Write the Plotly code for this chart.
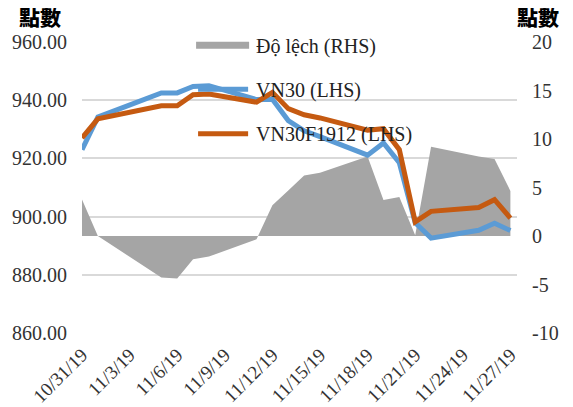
import plotly.graph_objects as go

dates = ["2019-10-31", "2019-11-01", "2019-11-05", "2019-11-06", "2019-11-07",
         "2019-11-08", "2019-11-11", "2019-11-12", "2019-11-13", "2019-11-14",
         "2019-11-15", "2019-11-18", "2019-11-19", "2019-11-20", "2019-11-21",
         "2019-11-22", "2019-11-25", "2019-11-26", "2019-11-27"]

vn30 = [923.0, 934.2, 942.5, 942.5, 944.7, 945.0, 940.2, 940.3, 933.0, 929.5,
        927.5, 921.1, 925.3, 918.5, 897.9, 892.6, 895.3, 897.7, 895.2]

vn30f1912 = [927.0, 933.6, 938.1, 938.1, 941.9, 942.1, 939.3, 942.7, 937.1, 935.0,
             933.9, 929.7, 930.2, 923.0, 898.2, 901.8, 903.1, 905.8, 899.5]

do_lech = [3.77, 0.0, -4.28, -4.38, -2.39, -2.12, -0.34, 3.16, 4.7, 6.24,
           6.52, 8.19, 3.70, 4.03, 0.07, 9.19, 8.19, 7.95, 4.65]

tick_dates = ["2019-10-31", "2019-11-03", "2019-11-06", "2019-11-09", "2019-11-12",
              "2019-11-15", "2019-11-18", "2019-11-21", "2019-11-24", "2019-11-27"]
tick_text = ["10/31/19", "11/3/19", "11/6/19", "11/9/19", "11/12/19",
             "11/15/19", "11/18/19", "11/21/19", "11/24/19", "11/27/19"]

lhs_ticks = [860, 880, 900, 920, 940, 960]
rhs_ticks = [-10, -5, 0, 5, 10, 15, 20]
rhs_text = ["-10", "-5", "0", "5", "10", "15", "20"]

legend_names = ["Độ lệch (RHS)", "VN30 (LHS)", "VN30F1912 (LHS)"]
axis_title = "點數"

GRAY = "#A5A5A5"
BLUE = "#5B9BD5"
ORANGE = "#C55A11"
TXT = "#333333"
SERIF = "Liberation Serif"
CJK = "Noto Sans CJK TC"

fig = go.Figure()

fig.add_trace(go.Scatter(x=dates, y=do_lech, name=legend_names[0], mode="lines",
                         line=dict(width=0, color=GRAY), fill="tozeroy",
                         fillcolor=GRAY, yaxis="y", showlegend=False))
fig.add_trace(go.Scatter(x=dates, y=vn30, name=legend_names[1], mode="lines",
                         line=dict(width=5, color=BLUE), yaxis="y2", showlegend=False))
fig.add_trace(go.Scatter(x=dates, y=vn30f1912, name=legend_names[2], mode="lines",
                         line=dict(width=5, color=ORANGE), yaxis="y2", showlegend=False))

# The page body has an 8px margin, so the figure starts at page (8, 8).
OFF = 8
W, H = 573 - OFF, 407 - OFF
PL, PR, PT, PB = 82, 516.7, 42.3, 333.3   # plot area edges in page pixels
L, R, T, B = PL - OFF, W - (PR - OFF), PT - OFF, H - (PB - OFF)

fig.update_layout(
    template="none",
    width=W, height=H,
    margin=dict(l=L, r=R, t=T, b=B, pad=0, autoexpand=False),
    paper_bgcolor="white", plot_bgcolor="white",
    font=dict(family=SERIF, color=TXT, size=20),
    xaxis=dict(type="date", range=["2019-10-31", "2019-11-27 10:00"],
               tickvals=tick_dates, ticktext=tick_text, tickangle=-45,
               showgrid=False, zeroline=False, showline=False, ticks="",
               automargin=False,
               tickfont=dict(size=19, family=SERIF, color=TXT),
               ticklabelstandoff=6),
    yaxis=dict(side="right", range=[-10, 20], tickvals=rhs_ticks, ticktext=rhs_text,
               showgrid=False, zeroline=False, showline=False, ticks="",
               automargin=False,
               tickfont=dict(size=20, family=SERIF, color=TXT),
               ticklabelstandoff=14),
    yaxis2=dict(overlaying="y", side="left", range=[860, 960], tickvals=lhs_ticks,
                tickformat=".2f", showgrid=True, gridcolor="#D9D9D9", gridwidth=1.5,
                zeroline=False, showline=False, ticks="", automargin=False,
                tickfont=dict(size=20, family=SERIF, color=TXT),
                ticklabelstandoff=14),
    showlegend=False,
)

# Manual legend (symbols + labels), placed via page-pixel -> paper conversion
pw, ph = W - L - R, H - T - B
def px(x):
    return (x - OFF - L) / pw
def py(y):
    return 1 - (y - OFF - T) / ph

legend_y = [45.5, 89.5, 134]
fig.add_shape(type="rect", xref="paper", yref="paper",
              x0=px(196), x1=px(249), y0=py(42), y1=py(49),
              fillcolor=GRAY, line=dict(width=0))
fig.add_shape(type="line", xref="paper", yref="paper",
              x0=px(198), x1=px(248), y0=py(legend_y[1]), y1=py(legend_y[1]),
              line=dict(color=BLUE, width=5))
fig.add_shape(type="line", xref="paper", yref="paper",
              x0=px(198), x1=px(248), y0=py(legend_y[2]), y1=py(legend_y[2]),
              line=dict(color=ORANGE, width=5))
for name, yy in zip(legend_names, legend_y):
    fig.add_annotation(text=name, xref="paper", yref="paper", x=px(254), y=py(yy + 1),
                       xanchor="left", yanchor="middle", showarrow=False,
                       font=dict(family=SERIF, size=20, color="#222222"))

# Axis titles (top of the text box at the top of the page)
fig.add_annotation(text=axis_title, xref="paper", yref="paper", x=px(40), y=py(0),
                   xanchor="center", yanchor="top", showarrow=False, borderpad=0,
                   font=dict(family=CJK, size=21, color="#000000", weight=900))
fig.add_annotation(text=axis_title, xref="paper", yref="paper", x=px(538), y=py(0),
                   xanchor="center", yanchor="top", showarrow=False, borderpad=0,
                   font=dict(family=CJK, size=21, color="#000000", weight=900))

fig.write_html("out.html")
